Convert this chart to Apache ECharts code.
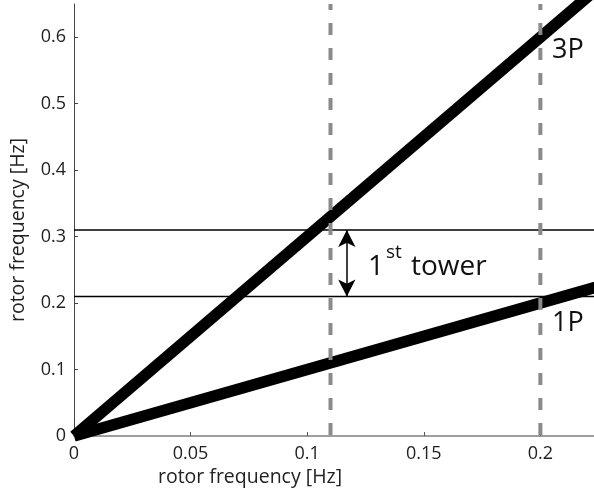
<!DOCTYPE html>
<html>
<head>
<meta charset="utf-8">
<script src="https://cdn.jsdelivr.net/npm/echarts@6/dist/echarts.min.js"></script>
<style>
  html, body { margin: 0; padding: 0; background: #fff; }
  #chart { width: 594px; height: 494px; }
</style>
</head>
<body>
<div id="chart"></div>
<script>
// Excitation lines of the rotor: 1P and 3P harmonics (endpoints, clipped by the axes)
const line1P = [[0, 0], [0.25, 0.25]];
const line3P = [[0, 0], [0.25, 0.75]];
// Band of the first tower eigenfrequency
const towerLow = 0.21;
const towerHigh = 0.31;
const arrowX = 0.117;
// Operating rotor speed limits
const rotorMin = 0.11;
const rotorMax = 0.2;
// Tick labels
const xTicks = [0, 0.05, 0.1, 0.15, 0.2];
const yTicks = [0, 0.1, 0.2, 0.3, 0.4, 0.5, 0.6];
const xMax = 0.223;
const yMax = 0.65;

const FONT = 'Open Sans';
const chart = echarts.init(document.getElementById('chart'), null, { renderer: 'canvas' });

const axisCommon = {
  type: 'value',
  min: 0,
  splitLine: { show: false },
  nameLocation: 'middle',
  nameTextStyle: { fontFamily: FONT, fontSize: 19.5, color: '#222' },
  axisLabel: { fontFamily: FONT, fontSize: 18, color: '#222' },
  axisTick: { inside: true, length: 4 }
};

const vline = (x) => [[x, yMax], [x, 0]];
const hline = (y) => [[0, y], [0.3, y]];

chart.setOption({
  animation: false,
  grid: { left: 74, right: 0, top: 4, bottom: 58, containLabel: false },
  xAxis: Object.assign({}, axisCommon, {
    max: xMax,
    name: 'rotor frequency [Hz]',
    nameGap: 31,
    nameTextStyle: Object.assign({}, axisCommon.nameTextStyle, { padding: [0, 168, 0, 0] }),
    axisLine: { lineStyle: { color: '#7f7f7f', width: 1.5 } },
    axisTick: { inside: true, length: 4, customValues: xTicks, lineStyle: { color: '#555' } },
    axisLabel: Object.assign({}, axisCommon.axisLabel, {
      customValues: xTicks, margin: 9,
      formatter: (v) => String(v)
    })
  }),
  yAxis: Object.assign({}, axisCommon, {
    max: yMax,
    name: 'rotor frequency [Hz]',
    nameGap: 46,
    nameTextStyle: Object.assign({}, axisCommon.nameTextStyle, { padding: [0, 20, 0, 0] }),
    axisLine: { lineStyle: { color: '#444', width: 1 } },
    axisTick: { inside: true, length: 4, customValues: yTicks, lineStyle: { color: '#444' } },
    axisLabel: Object.assign({}, axisCommon.axisLabel, {
      customValues: yTicks, margin: 8,
      formatter: (v) => String(v)
    })
  }),
  series: [
    {
      name: 'tower band low', type: 'line', data: hline(towerLow), symbol: 'none', z: 3,
      lineStyle: { color: '#000', width: 1.5 }
    },
    {
      name: 'tower band high', type: 'line', data: hline(towerHigh), symbol: 'none', z: 3,
      lineStyle: { color: '#000', width: 1.5 },
      markLine: {
        silent: true, symbol: ['arrow', 'arrow'], symbolSize: [13, 17],
        label: { show: false },
        lineStyle: { color: '#000', width: 1.5, type: 'solid' },
        data: [[{ coord: [arrowX, towerLow] }, { coord: [arrowX, towerHigh] }]]
      }
    },
    {
      name: '1P', type: 'line', data: line1P, symbol: 'none', z: 4,
      lineStyle: { color: '#000', width: 11.5, cap: 'butt' }
    },
    {
      name: '3P', type: 'line', data: line3P, symbol: 'none', z: 4,
      lineStyle: { color: '#000', width: 11.5, cap: 'butt' }
    },
    {
      name: 'rotor min', type: 'line', data: vline(rotorMin), symbol: 'none', z: 5,
      lineStyle: { color: '#8a8a8a', width: 4, type: [12, 13], dashOffset: 6 }
    },
    {
      name: 'rotor max', type: 'line', data: vline(rotorMax), symbol: 'none', z: 5,
      lineStyle: { color: '#8a8a8a', width: 4, type: [12, 13], dashOffset: 6 }
    }
  ],
  graphic: [
    { type: 'text', left: 552, top: 37, z: 10,
      style: { text: '3P', fontFamily: FONT, fontSize: 27, fill: '#111' } },
    { type: 'text', left: 552, top: 310, z: 10,
      style: { text: '1P', fontFamily: FONT, fontSize: 27, fill: '#111' } },
    { type: 'text', left: 368, top: 253, z: 10,
      style: { text: '1', fontFamily: FONT, fontSize: 28, fill: '#111' } },
    { type: 'text', left: 386, top: 243, z: 10,
      style: { text: 'st', fontFamily: FONT, fontSize: 19, fill: '#111' } },
    { type: 'text', left: 411, top: 253, z: 10,
      style: { text: 'tower', fontFamily: FONT, fontSize: 28, fill: '#111' } }
  ]
});
</script>
</body>
</html>
